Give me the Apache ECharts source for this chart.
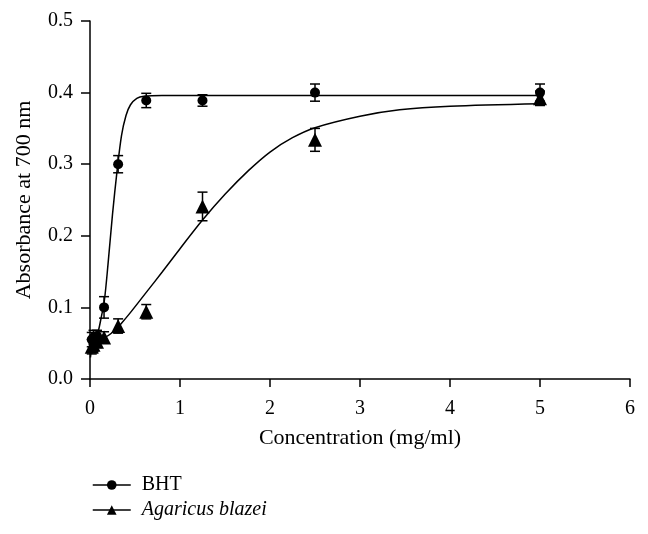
<!DOCTYPE html>
<html><head><meta charset="utf-8">
<script src="https://cdn.jsdelivr.net/npm/echarts@6/dist/echarts.min.js"></script>
<style>html,body{margin:0;padding:0;background:#fff}#c{width:648px;height:534px}</style>
</head><body><div id="c"></div>
<script>
// Concentrations (mg/ml)
const conc = [0.0195, 0.039, 0.078, 0.156, 0.3125, 0.625, 1.25, 2.5, 5];
// BHT absorbance and SD
const bhtY   = [0.055, 0.058, 0.060, 0.100, 0.300, 0.389, 0.389, 0.400, 0.400];
const bhtErr = [0.010, 0.010, 0.008, 0.015, 0.012, 0.010, 0.008, 0.012, 0.012];
// Agaricus blazei absorbance and SD
const agaY   = [0.045, 0.048, 0.052, 0.058, 0.074, 0.094, 0.241, 0.334, 0.392];
const agaErr = [0.010, 0.010, 0.008, 0.008, 0.010, 0.010, 0.020, 0.016, 0.010];
// Fitted curves
const bhtFitX = [0.005, 0.03, 0.06, 0.09, 0.12, 0.16, 0.2, 0.25, 0.3, 0.35, 0.4, 0.45, 0.52, 0.6, 0.8, 5];
const bhtFitY = [0.03, 0.052, 0.058, 0.066, 0.083, 0.11, 0.16, 0.23, 0.29, 0.34, 0.368, 0.383, 0.392, 0.395, 0.396, 0.396];
const agaFitX = [0.04, 0.15, 0.26, 0.35, 0.444, 0.625, 0.8, 1.0, 1.25, 1.5, 1.76, 2.0, 2.25, 2.5, 3.0, 3.44, 4.0, 5.0];
const agaFitY = [0.052, 0.057, 0.066, 0.078, 0.092, 0.121, 0.149, 0.182, 0.222, 0.258, 0.291, 0.317, 0.337, 0.351, 0.367, 0.376, 0.381, 0.3845];
const xTicks = [0, 1, 2, 3, 4, 5, 6];
const yTicks = [0.0, 0.1, 0.2, 0.3, 0.4, 0.5];

const zip = (a, b) => a.map((v, i) => [v, b[i]]);
const errData = (ys, es) => conc.map((x, i) => [x, ys[i] - es[i], ys[i] + es[i]]);

const FONT = '"Liberation Serif", "DejaVu Serif", serif';

function errRender(params, api) {
  const x = api.value(0);
  const lo = api.coord([x, api.value(1)]);
  const hi = api.coord([x, api.value(2)]);
  const w = 5;
  const st = {stroke: '#000', lineWidth: 1.5, fill: null};
  return {type: 'group', children: [
    {type: 'line', shape: {x1: lo[0], y1: lo[1], x2: hi[0], y2: hi[1]}, style: st},
    {type: 'line', shape: {x1: lo[0]-w, y1: lo[1], x2: lo[0]+w, y2: lo[1]}, style: st},
    {type: 'line', shape: {x1: hi[0]-w, y1: hi[1], x2: hi[0]+w, y2: hi[1]}, style: st}
  ]};
}

const chart = echarts.init(document.getElementById('c'), null, {renderer: 'canvas'});
chart.setOption({
  animation: false,
  backgroundColor: '#fff',
  grid: {left: 90, right: 18, top: 21, bottom: 155, containLabel: false},
  xAxis: {
    type: 'value', min: xTicks[0], max: xTicks[xTicks.length-1], interval: 1,
    name: 'Concentration (mg/ml)', nameLocation: 'middle', nameGap: 48,
    nameTextStyle: {fontFamily: FONT, fontSize: 22, color: '#000'},
    axisLine: {lineStyle: {color: '#000', width: 1.5}},
    axisTick: {length: 8, lineStyle: {color: '#000', width: 1.5}},
    axisLabel: {fontFamily: FONT, fontSize: 20, color: '#000', margin: 20},
    splitLine: {show: false}
  },
  yAxis: {
    type: 'value', min: yTicks[0], max: yTicks[yTicks.length-1], interval: 0.1,
    name: 'Absorbance at 700 nm', nameLocation: 'middle', nameGap: 55, nameRotate: 90,
    nameTextStyle: {fontFamily: FONT, fontSize: 22, color: '#000'},
    axisLine: {show: true, lineStyle: {color: '#000', width: 1.5}},
    axisTick: {show: true, length: 9, lineStyle: {color: '#000', width: 1.5}},
    axisLabel: {fontFamily: FONT, fontSize: 20, color: '#000', margin: 17, formatter: v => v.toFixed(1)},
    splitLine: {show: false}
  },
  legend: {
    orient: 'vertical', left: 87, top: 470, itemWidth: 38, itemHeight: 12, itemGap: 5,
    data: ['BHT', 'Agaricus blazei'],
    lineStyle: {color: '#000', width: 1.5, opacity: 1},
    textStyle: {fontFamily: FONT, fontSize: 20, color: '#000',
      rich: {
        n: {fontFamily: FONT, fontSize: 20, color: '#000', lineHeight: 21, padding: [0, 0, 0, 6]},
        i: {fontFamily: FONT, fontSize: 20, fontStyle: 'italic', color: '#000', lineHeight: 21, padding: [0, 0, 0, 6]}
      }},
    formatter: n => n === 'Agaricus blazei' ? '{i|' + n + '}' : '{n|' + n + '}'
  },
  series: [
    {type: 'line', name: 'BHTfit', data: zip(bhtFitX, bhtFitY), smooth: 0.3, showSymbol: false,
     lineStyle: {color: '#000', width: 1.5}, z: 2, silent: true},
    {type: 'line', name: 'Agafit', data: zip(agaFitX, agaFitY), smooth: 0.3, showSymbol: false,
     lineStyle: {color: '#000', width: 1.5}, z: 2, silent: true},
    {type: 'custom', name: 'BHTerr', data: errData(bhtY, bhtErr), renderItem: errRender, z: 3},
    {type: 'custom', name: 'Agaerr', data: errData(agaY, agaErr), renderItem: errRender, z: 3},
    {type: 'line', name: 'BHT', data: zip(conc, bhtY), symbol: 'circle', symbolSize: 10,
     itemStyle: {color: '#000'}, lineStyle: {color: '#000', width: 1.5, opacity: 0}, z: 4},
    {type: 'line', name: 'Agaricus blazei', data: zip(conc, agaY), symbol: 'triangle', symbolSize: 14,
     itemStyle: {color: '#000'}, lineStyle: {color: '#000', width: 1.5, opacity: 0}, z: 4}
  ]
});
</script></body></html>
